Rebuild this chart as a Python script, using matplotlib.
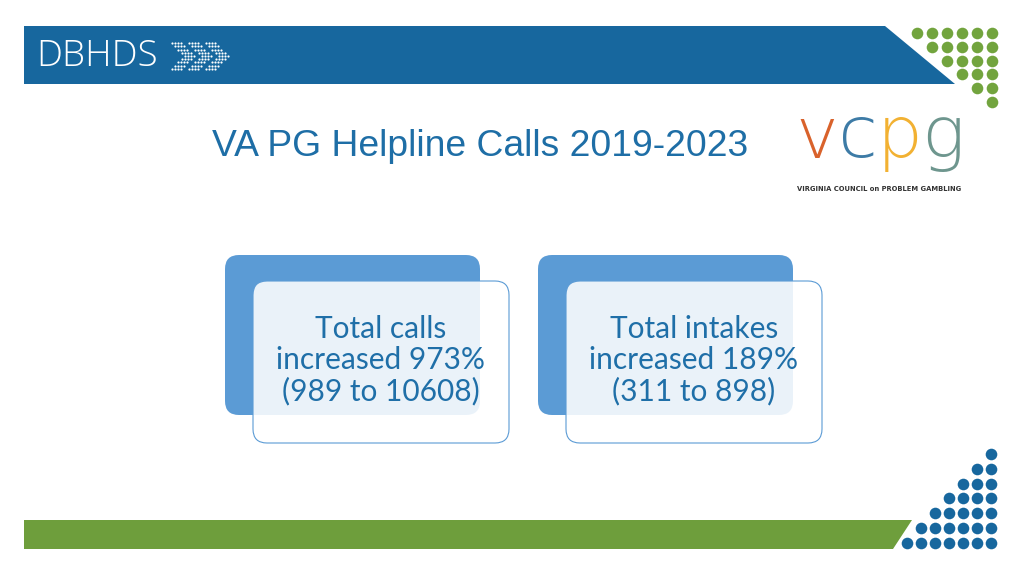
import matplotlib
matplotlib.use("Agg")
import matplotlib.pyplot as plt
from matplotlib.patches import Polygon, FancyBboxPatch

title = "VA PG Helpline Calls 2019-2023"
box_texts = ["Total calls\nincreased 973%\n(989 to 10608)",
             "Total intakes\nincreased 189%\n(311 to 898)"]
box_left = [225, 538]

fig = plt.figure(figsize=(10.24, 5.76), dpi=100)
ax = fig.add_axes([0, 0, 1, 1])
ax.set_xlim(0, 1024); ax.set_ylim(576, 0); ax.axis("off")

blue = "#17679E"
green = "#6E9E3C"
ax.add_patch(Polygon([(24, 26), (885, 26), (955, 84), (24, 84)], closed=True, color=blue, lw=0))
ax.add_patch(Polygon([(24, 520), (912, 520), (893, 549), (24, 549)], closed=True, color=green, lw=0))

for r in range(6):
    n = 6 - r
    xs = [992 - 15 * i for i in range(n)]
    ax.scatter(xs, [33 + 13.8 * r] * n, s=70, color="#72A43E", lw=0)
for r in range(7):
    n = r + 1
    xs = [991 - 14 * i for i in range(n)]
    ax.scatter(xs, [454 + 14.8 * r] * n, s=70, color="#17679E", lw=0)

ax.text(36, 56, "DBHDS", fontsize=26.5, color="white", family="Open Sans", weight="light",
        ha="left", va="center")
for c in range(3):
    x0 = 172 + c * 17
    for k in range(4):
        for j in range(9):
            t = abs(j - 4)
            x = x0 + k * 3 + (4 - t) * 3.2
            ax.scatter([x], [56 + (j - 4) * 3.2], s=2.5, color="white", lw=0)

ax.text(480, 146, title, fontsize=26.8, color="#1E6EA6", family="Liberation Sans", ha="center", va="center")

cols = ["#D9622B", "#3D7BA6", "#F2B132", "#6E968E"]
xs = [817, 858, 900, 943]
for ch, col, x in zip("vcpg", cols, xs):
    ax.text(x, 138, ch, fontsize=52, color=col, family="DejaVu Sans", weight="light",
            ha="center", va="center")
ax.text(879, 189, "VIRGINIA COUNCIL on PROBLEM GAMBLING", fontsize=4.9, color="#333333",
        family="DejaVu Sans Condensed", weight="bold", ha="center", va="center")

for x0, txt in zip(box_left, box_texts):
    ax.add_patch(FancyBboxPatch((x0, 255), 255, 160, boxstyle="round,pad=0,rounding_size=14",
                                fc="#5B9BD5", ec="none"))
    ax.add_patch(FancyBboxPatch((x0 + 28, 281), 256, 162, boxstyle="round,pad=0,rounding_size=14",
                                fc=(1, 1, 1, 0.88), ec="#5B9BD5", lw=0.8))
    ax.text(x0 + 156, 360, txt, fontsize=21.5, color="#1F6FA8", family="Lato",
            ha="center", va="center", linespacing=1.12)

fig.savefig("out.png", dpi=100)
